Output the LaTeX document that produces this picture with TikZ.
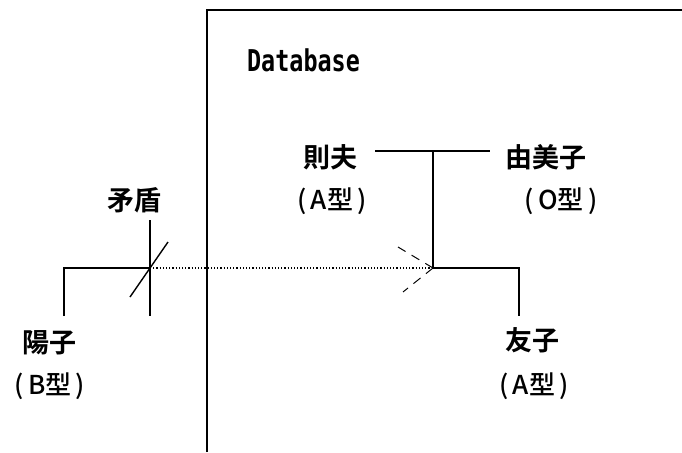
\documentclass[tikz,border=0pt]{standalone}
\usepackage{fontspec}
\newfontfamily\jpfont{Noto Sans CJK JP Bold}
\newfontfamily\jptype{Noto Sans CJK JP Medium}
\newfontfamily\dbfont{DejaVu Sans Mono Bold}
\tikzset{
    person/.style={font=\jpfont\fontsize{27}{27}\selectfont, inner sep=0pt},
    btype/.style={font=\jptype\fontsize{26}{26}\selectfont, inner sep=0pt},
    line/.style={black, line width=1.4pt}
}
\begin{document}
\begin{tikzpicture}[x=1pt, y=-1pt]
        \useasboundingbox (0,0) rectangle (682,452);

        % database frame
        \draw[line width=1.8pt] (207,452) -- (207,10) -- (682,10);
        \node[font=\dbfont\fontsize{30}{30}\selectfont, xscale=0.78, anchor=west, inner sep=0pt] (db) at (247,60) {Database};

        % persons
        \node[person] (norio) at (330,157) {則夫};
        \node[btype] (norioT) at (332,201) {(\,A型\,)};
        \node[person] (yumiko) at (546,157) {由美子};
        \node[btype] (yumikoT) at (561,201) {(\,O型\,)};
        \node[person] (tomoko) at (532,340) {友子};
        \node[btype] (tomokoT) at (534,386) {(\,A型\,)};
        \node[person] (yoko) at (49,343) {陽子};
        \node[btype] (yokoT) at (50,386) {(\,B型\,)};
        \node[person] (mujun) at (134,200) {矛盾};

        \coordinate (top) at (433,151);
        \coordinate (mid) at (433,268);
        \coordinate (tleg) at (519,316);
        \coordinate (yleg) at (64,316);
        \coordinate (cross) at (150,268);

        % lines
        \draw[line] (375,151) -- (490,151);
        \draw[line] (top) -- (mid) -| (tleg);
        \draw[line] (yleg) |- (cross);
        \draw[line] (150,220) -- (150,316);
        \draw[line] (130,297) -- (168,242);

        \draw[line width=1.2pt, dotted] (cross) -- (mid);
        \draw[line width=1pt, dash pattern=on 9pt off 7pt] (mid) -- (398,247);
        \draw[line width=1pt, dash pattern=on 9pt off 7pt] (mid) -- (403,292);
    \end{tikzpicture}
\end{document}
